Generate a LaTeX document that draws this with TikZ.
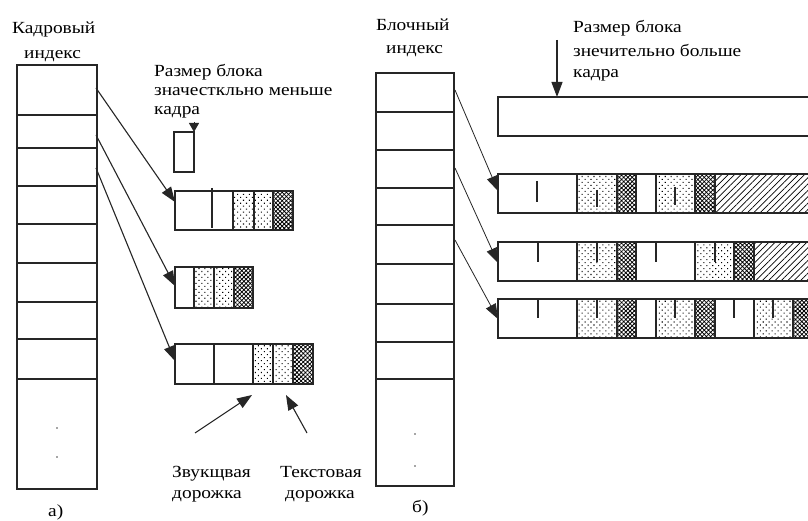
\documentclass[tikz,border=0pt]{standalone}
\usepackage{fontspec}
\setmainfont[FakeStretch=1.14]{Liberation Serif}
\usetikzlibrary{arrows.meta,patterns.meta}

\tikzset{
  box/.style={draw=black!85, line width=1.2pt},
  plaincell/.style={box, fill=white},
  dotcell/.style={box, pattern={Dots[distance=4.2pt,radius=0.75pt,angle=45]}},
  crosscell/.style={box, pattern={Hatch[angle=45,distance=3pt,line width=0.75pt]}},
  hatchcell/.style={box, pattern={Lines[angle=45,distance=4.5pt,line width=0.7pt]}},
  tick/.style={draw=black!85, line width=1.2pt},
  lbl/.style={inner sep=0pt, anchor=base west, font=\fontsize{17}{19}\selectfont},
  ptr/.style={draw=black!85, line width=1.1pt, -{Triangle[length=15pt,width=11pt]}},
  thinptr/.style={draw=black!85, line width=0.8pt, -{Triangle[length=15pt,width=11pt]}},
  smallptr/.style={draw=black!85, line width=1pt, -{Triangle[length=9pt,width=10pt]}},
}

\begin{document}
\begin{tikzpicture}[x=1pt,y=-1pt]
\useasboundingbox (0,0) rectangle (808,521);
\fill[white] (0,0) rectangle (808,521);
\clip (0,0) rectangle (808,521);

% ---------------- a) frame index ----------------
\node[lbl] (kadr) at (12,34) {Кадровый};
\node[lbl] (kidx) at (24,59) {индекс};
\draw[box] (17,65) rectangle (97,489);
\foreach \y in {115,148,186,224,263,302,339,379}
  \draw[box] (17,\y) -- (97,\y);
\fill[black!70] (57,428) circle (0.8pt) (57,457) circle (0.8pt);

\node[lbl] (sm1) at (154,77) {Размер блока};
\node[lbl] (sm2) at (154,96) {значесткльно меньше};
\node[lbl] (sm3) at (154,115) {кадра};

% a single small block
\draw[box] (174,132) rectangle (194,172);
\coordinate (smtop) at (194,122);
\coordinate (smbox) at (194,132);
\draw[smallptr] (smtop) -- (smbox);

% block row 1
\foreach \a/\b/\f in {175/233/plaincell,233/254/dotcell,254/273/dotcell,273/293/crosscell}
  \path[\f] (\a,191) rectangle (\b,230);
\draw[tick] (212,188) -- (212,228);
% block row 2
\foreach \a/\b/\f in {175/194/plaincell,194/214/dotcell,214/234/dotcell,234/253/crosscell}
  \path[\f] (\a,267) rectangle (\b,308);
% block row 3
\foreach \a/\b/\f in {175/214/plaincell,214/253/plaincell,253/273/dotcell,273/293/dotcell,293/313/crosscell}
  \path[\f] (\a,344) rectangle (\b,384);

\coordinate (ka1) at (96,88);
\coordinate (ka2) at (96,135);
\coordinate (ka3) at (96,168);
\coordinate (ba1) at (175,202);
\coordinate (ba2) at (175,286);
\coordinate (ba3) at (175,361);
\draw[ptr] (ka1) -- (ba1);
\draw[ptr] (ka2) -- (ba2);
\draw[ptr] (ka3) -- (ba3);

% track labels
\node[lbl] (snd1) at (172,477) {Звукщвая};
\node[lbl] (snd2) at (172,498) {дорожка};
\node[lbl] (txt1) at (280,477) {Текстовая};
\node[lbl] (txt2) at (285,498) {дорожка};
\coordinate (sndtail) at (195,433);
\coordinate (sndhead) at (252,395);
\coordinate (txttail) at (307,433);
\coordinate (txthead) at (286,395);
\draw[ptr] (sndtail) -- (sndhead);
\draw[ptr] (txttail) -- (txthead);
\node[lbl] (capa) at (48,516) {а)};

% ---------------- b) block index ----------------
\node[lbl] (blk) at (376,31) {Блочный};
\node[lbl] (bidx) at (386,54) {индекс};
\draw[box] (376,73) rectangle (454,486);
\foreach \y in {112,150,188,225,264,304,342,379}
  \draw[box] (376,\y) -- (454,\y);
\fill[black!70] (415,434) circle (0.8pt) (415,466) circle (0.8pt);

\node[lbl] (bg1) at (573,33) {Размер блока};
\node[lbl] (bg2) at (573,57) {знечительно больше};
\node[lbl] (bg3) at (573,78) {кадра};

% one large block
\draw[box] (812,97) -- (498,97) -- (498,136) -- (812,136);
\coordinate (bgtail) at (557,40);
\coordinate (bgbox) at (557,97);
\draw[ptr] (bgtail) -- (bgbox);

% row A
\foreach \a/\b/\f in {498/577/plaincell,577/617/dotcell,617/636/crosscell,636/656/plaincell,
                      656/695/dotcell,695/715/crosscell,715/814/hatchcell}
  \path[\f] (\a,174) rectangle (\b,213);
\draw[tick] (537,181) -- (537,202);
\draw[tick] (597,190) -- (597,207);
\draw[tick] (675,187) -- (675,205);
% row B
\foreach \a/\b/\f in {498/577/plaincell,577/617/dotcell,617/636/crosscell,636/695/plaincell,
                      695/734/dotcell,734/754/crosscell,754/814/hatchcell}
  \path[\f] (\a,242) rectangle (\b,281);
\foreach \x in {538,597,656,715}
  \draw[tick] (\x,242) -- (\x,262);
% row C
\foreach \a/\b/\f in {498/577/plaincell,577/617/dotcell,617/636/crosscell,636/656/plaincell,
                      656/695/dotcell,695/715/crosscell,715/754/plaincell,754/793/dotcell,793/814/crosscell}
  \path[\f] (\a,299) rectangle (\b,338);
\foreach \x in {538,597,675,734,773}
  \draw[tick] (\x,299) -- (\x,318);

\coordinate (kb1) at (455,90);
\coordinate (kb2) at (455,168);
\coordinate (kb3) at (455,240);
\coordinate (bb1) at (498,191);
\coordinate (bb2) at (498,263);
\coordinate (bb3) at (498,319);
\draw[thinptr] (kb1) -- (bb1);
\draw[thinptr] (kb2) -- (bb2);
\draw[thinptr] (kb3) -- (bb3);

\node[lbl] (capb) at (412,512) {б)};
\end{tikzpicture}
\end{document}
